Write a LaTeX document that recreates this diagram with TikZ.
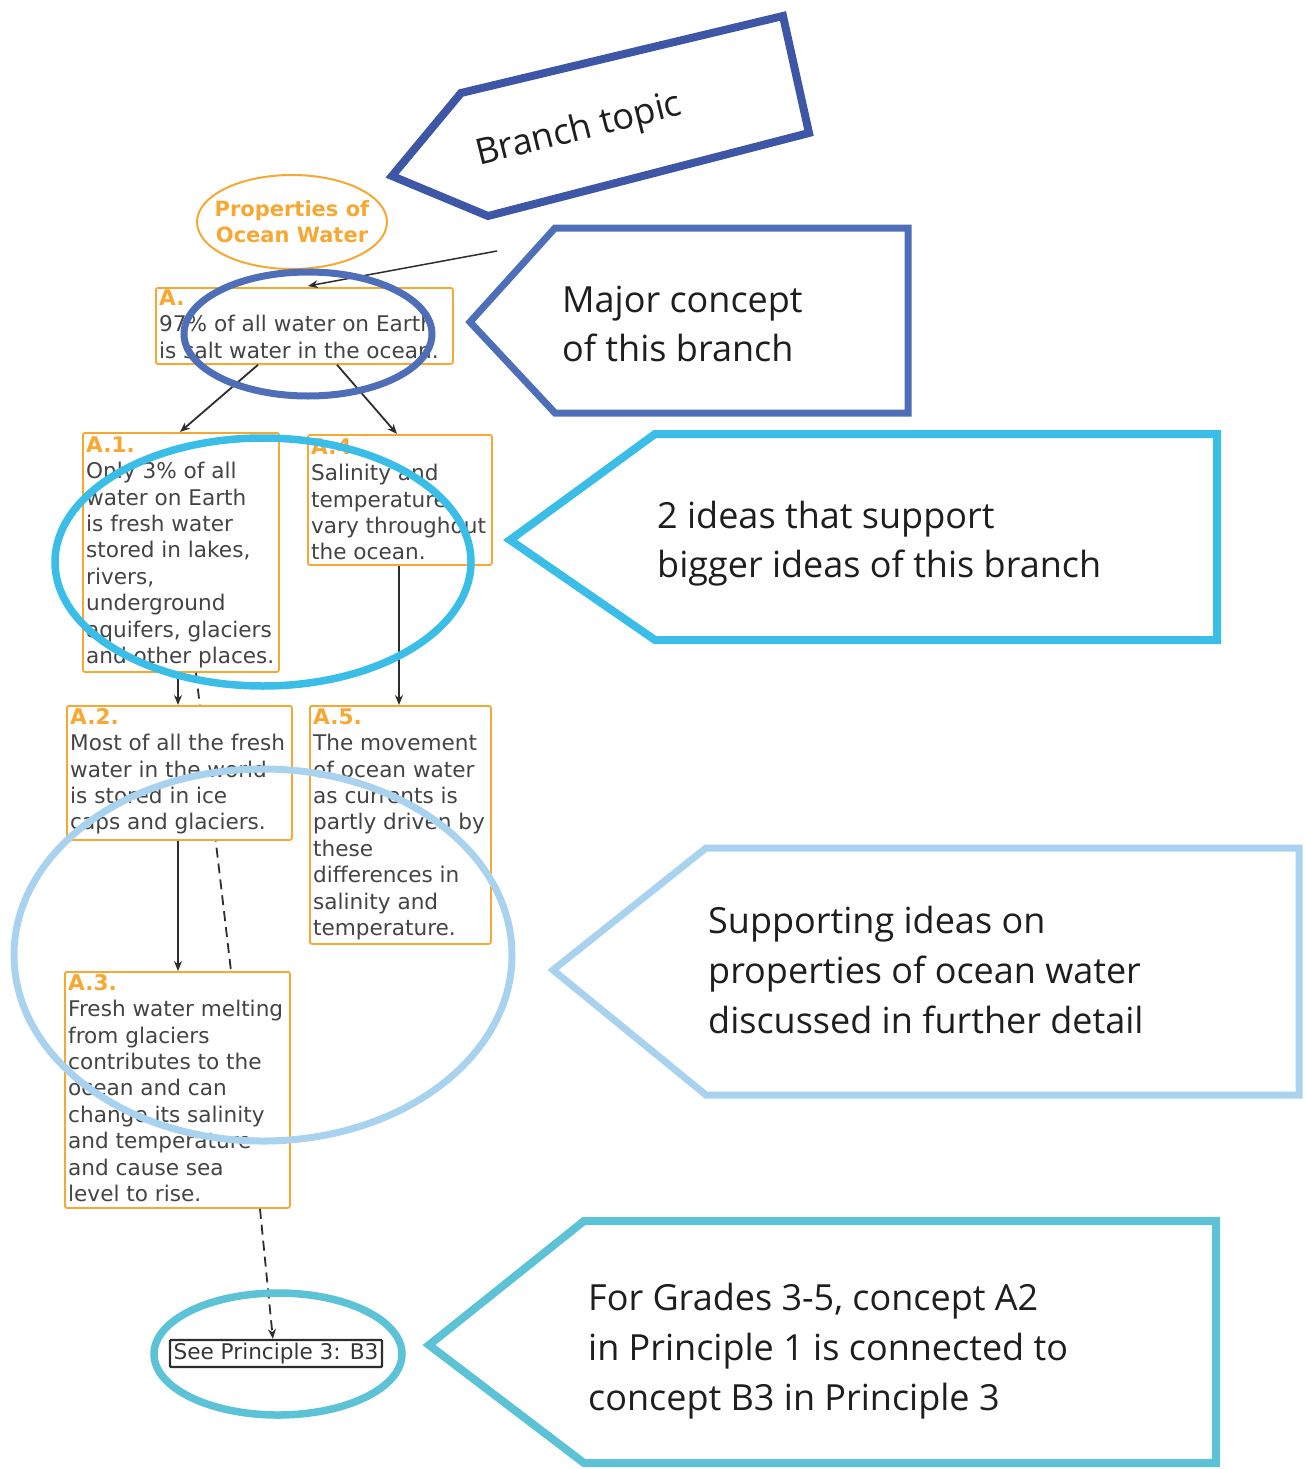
\documentclass[tikz,border=0pt]{standalone}
\usepackage{fontspec}
\setmainfont{DejaVu Sans}
\newfontfamily\callfont{Open Sans}
\usetikzlibrary{arrows.meta,calc,shapes.geometric}
\definecolor{orng}{RGB}{247,168,50}
\definecolor{txtgray}{RGB}{68,68,68}
\definecolor{lngray}{RGB}{45,45,45}
\definecolor{btblue}{RGB}{61,86,166}
\definecolor{mcblue}{RGB}{78,110,184}
\definecolor{cyblue}{RGB}{58,190,232}
\definecolor{lbblue}{RGB}{168,210,238}
\definecolor{tlblue}{RGB}{92,194,214}
\definecolor{calltxt}{RGB}{30,30,30}
\newcommand\boxlab[1]{\rule{0pt}{17pt}\textbf{\textcolor{orng}{#1}}}
\begin{document}
\begin{tikzpicture}[x=1pt,y=-1pt,
  box/.style={draw=orng, line width=1.8pt, rounded corners=2pt, fill=white, inner sep=0pt, anchor=north west},
  boxtxt/.style={anchor=north west, inner sep=0pt, align=left, font=\fontsize{21.6}{26.4}\selectfont, text=txtgray},
  conn/.style={draw=lngray, line width=1.8pt},
  arr/.style={conn, -{Stealth[length=10pt,width=8pt]}},
  dashconn/.style={conn, dash pattern=on 10pt off 6pt},
  callout/.style={line width=#1, line join=miter, miter limit=10},
  calltext/.style={font=\callfont\fontsize{36}{49}\selectfont, align=left, anchor=north west, inner sep=0pt, text=calltxt},
  mark ellipse/.style={line width=#1}
]
\useasboundingbox (0,0) rectangle (1304,1469);

% ---- topic
\node[inner sep=0pt, align=center, font=\bfseries\fontsize{21}{26}\selectfont, text=orng] (topic) at (292,222) {Properties of\\Ocean Water};
\draw[orng, line width=2pt] (topic.center) ellipse [x radius=95, y radius=47];

% ---- concept boxes
\node[box, minimum width=297pt, minimum height=76pt] (A) at (155,287) {};
\node[boxtxt] (Atx) at ($(A.north west)+(4,1)$) {\boxlab{A.}\\97\% of all water on Earth\\is salt water in the ocean.};

\node[box, minimum width=196pt, minimum height=239pt] (A1) at (82,432) {};
\node[boxtxt] (A1tx) at ($(A1.north west)+(4,3)$) {\boxlab{A.1.}\\Only 3\% of all\\water on Earth\\is fresh water\\stored in lakes,\\rivers,\\underground\\aquifers, glaciers\\and other places.};

\node[box, minimum width=184pt, minimum height=130pt] (A4) at (307,434) {};
\node[boxtxt] (A4tx) at ($(A4.north west)+(4,3)$) {\boxlab{A.4.}\\Salinity and\\temperature\\vary throughout\\the ocean.};

% dashed connector A.1 -> A.3 passes behind A.2
\coordinate (d2) at (231,971);
\draw[dashconn] ($(A1.south west)+(114,0)$) -- (d2);

\node[box, minimum width=225pt, minimum height=134pt] (A2) at (66,705) {};
\node[boxtxt] (A2tx) at ($(A2.north west)+(4,2)$) {\boxlab{A.2.}\\Most of all the fresh\\water in the world\\is stored in ice\\caps and glaciers.};

\node[box, minimum width=181pt, minimum height=238pt] (A5) at (309,705) {};
\node[boxtxt] (A5tx) at ($(A5.north west)+(4,2)$) {\boxlab{A.5.}\\The movement\\of ocean water\\as currents is\\partly driven by\\these\\differences in\\salinity and\\temperature.};

\node[box, minimum width=225pt, minimum height=236pt] (A3) at (64,971) {};
\node[boxtxt] (A3tx) at ($(A3.north west)+(4,2)$) {\boxlab{A.3.}\\Fresh water melting\\from glaciers\\contributes to the\\ocean and can\\change its salinity\\and temperature\\and cause sea\\level to rise.};

\node[draw=lngray, line width=2.2pt, rounded corners=1pt, fill=white, minimum width=212pt, minimum height=27pt,
      inner sep=0pt, font=\fontsize{21.6}{26}\selectfont, text=txtgray!80!black] (see) at (276,1353.5) {See Principle 3: B3};

% ---- connectors
\coordinate (ptr) at (497,251);
\draw[arr, line width=1.5pt] (ptr) -- ($(A.north west)+(153,-1)$);
\draw[arr] ($(A.south west)+(103,0)$) -- ($(A1.north west)+(98,0)$);
\draw[arr] ($(A.south west)+(182,0)$) -- ($(A4.north west)+(90,0)$);
\draw[arr] ($(A1.south west)+(96,0)$) -- ($(A2.north west)+(112,0)$);
\draw[arr] ($(A2.south west)+(112,0)$) -- ($(A3.north west)+(114,0)$);
\draw[arr] ($(A4.south west)+(92,0)$) -- ($(A5.north west)+(90,0)$);
\draw[dashconn, -{Stealth[length=10pt,width=8pt]}] ($(A3.south west)+(196,0)$) -- ($(see.north west)+(104,0)$);

% ---- annotation ellipses
\draw[mcblue, mark ellipse=7pt] (308,334) ellipse [x radius=124, y radius=62];
\draw[cyblue, mark ellipse=7.5pt] (263,562) ellipse [x radius=208, y radius=124];
\draw[lbblue, mark ellipse=7pt] (263,955) ellipse [x radius=249, y radius=186];
\draw[tlblue, mark ellipse=7.5pt] (278,1354) ellipse [x radius=124, y radius=61];

% ---- callouts
\draw[btblue, callout=8pt] (392,176) -- (461,93) -- (783,16) -- (809,133) -- (488,216) -- cycle;
\node[calltext, anchor=center, rotate=14] (bt) at (579,131) {Branch topic};

\draw[mcblue, callout=7pt] (470,322) -- (555,228) -- (908,228) -- (908,413) -- (555,413) -- cycle;
\node[calltext] (mct) at (562,284) {\rule{0pt}{28pt}Major concept\\of this branch};

\draw[cyblue, callout=8pt] (510,540) -- (655,434) -- (1217,434) -- (1217,640) -- (655,640) -- cycle;
\node[calltext] (cyt) at (657,500) {\rule{0pt}{28pt}2 ideas that support\\bigger ideas of this branch};

\draw[lbblue, callout=7pt] (553,970) -- (706,848) -- (1299,848) -- (1299,1095) -- (706,1095) -- cycle;
\node[calltext, font=\callfont\fontsize{36}{50}\selectfont] (lbt) at (708,905) {\rule{0pt}{28pt}Supporting ideas on\\properties of ocean water\\discussed in further detail};

\draw[tlblue, callout=8pt] (429,1345) -- (584,1221) -- (1216,1221) -- (1216,1463) -- (584,1463) -- cycle;
\node[calltext, font=\callfont\fontsize{36}{50}\selectfont] (tlt) at (588,1282) {\rule{0pt}{28pt}For Grades 3-5, concept A2\\in Principle 1 is connected to\\concept B3 in Principle 3};
\end{tikzpicture}
\end{document}
